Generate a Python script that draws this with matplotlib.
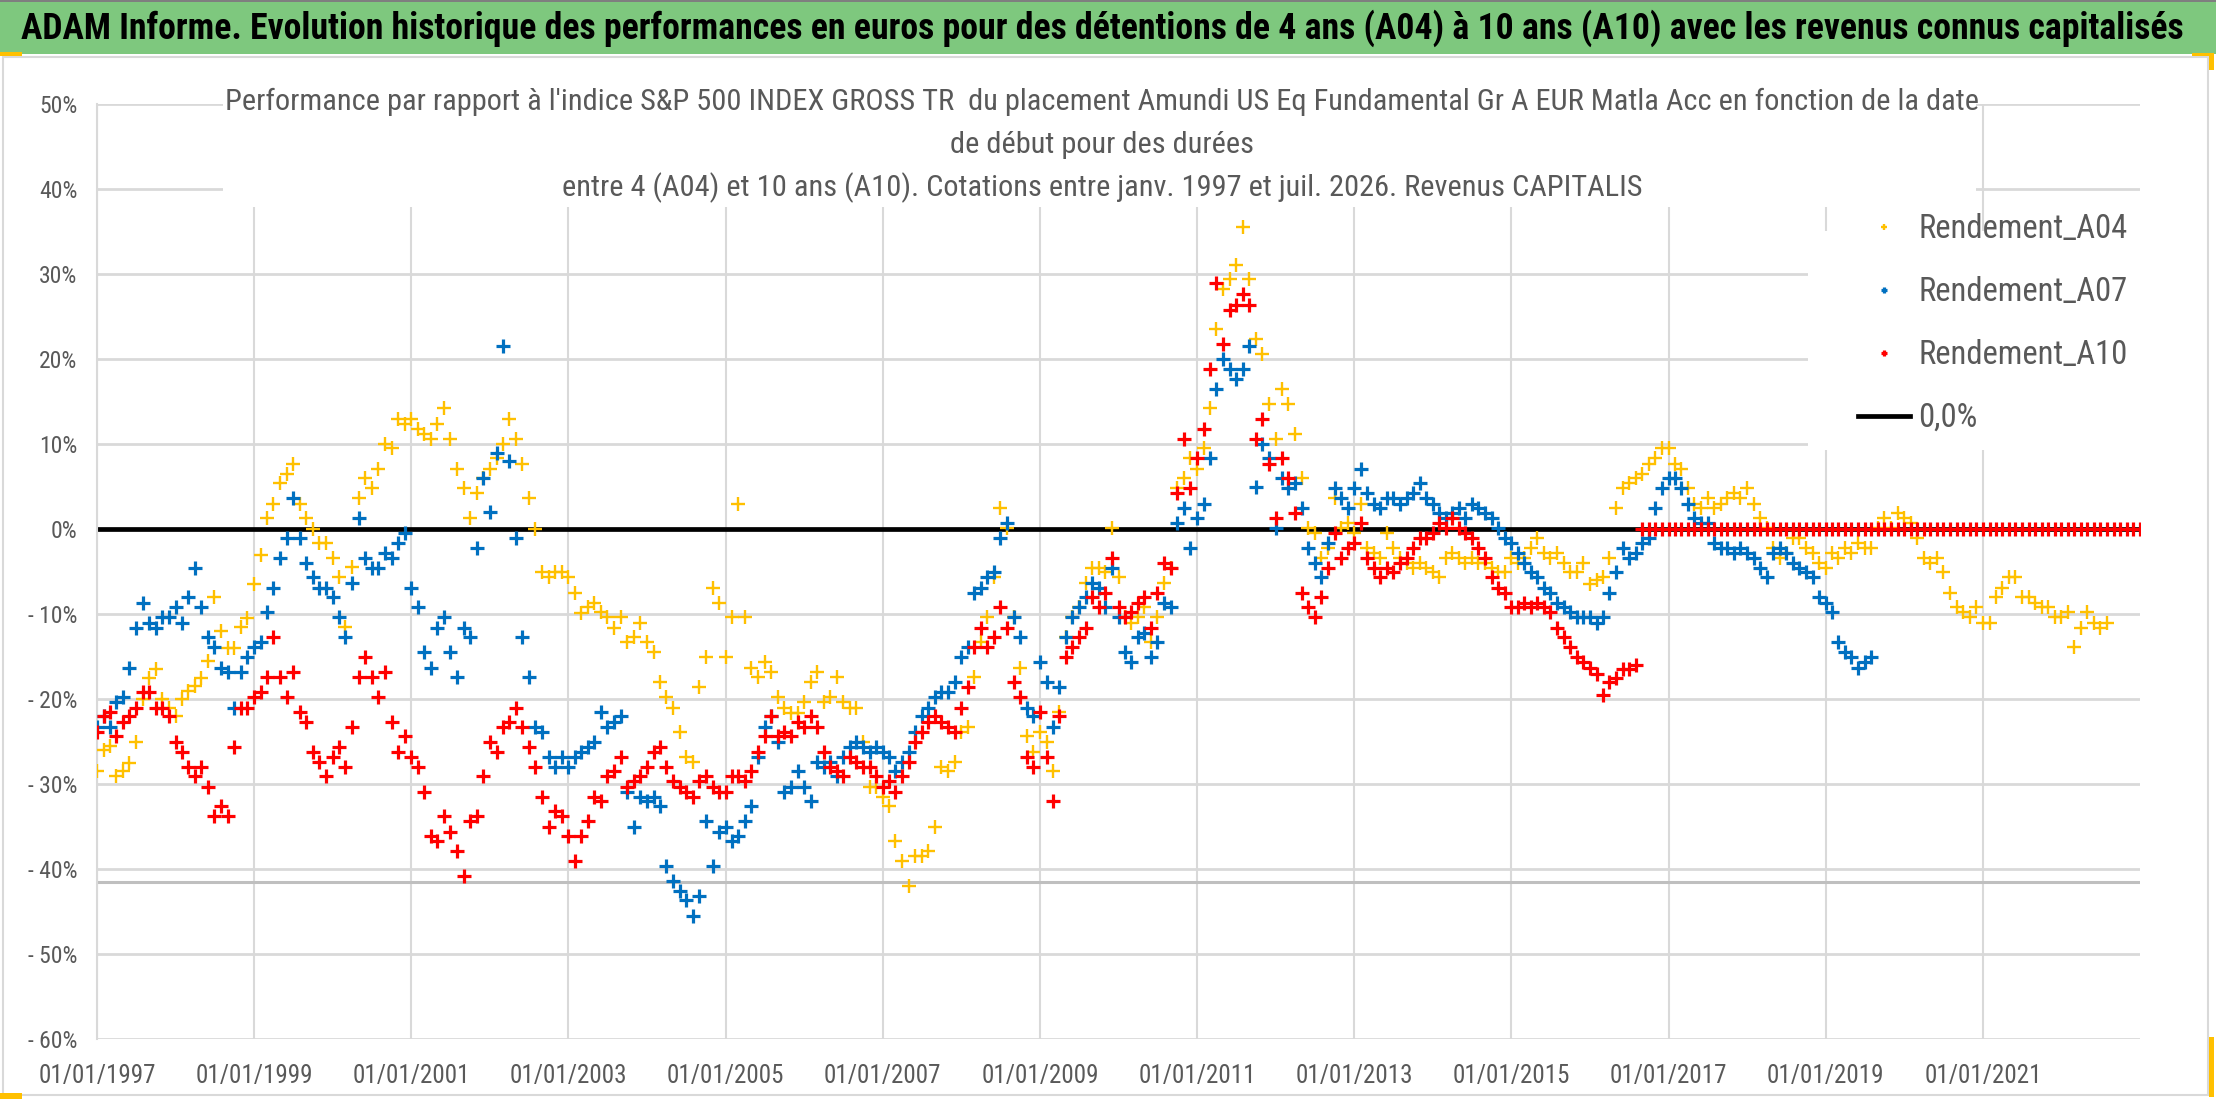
import numpy as np
import pandas as pd
import matplotlib
matplotlib.use("Agg")
import matplotlib.pyplot as plt
import matplotlib.dates as mdates
from matplotlib import font_manager
from matplotlib.patches import Rectangle

# police étroite proche de Calibri
noms = {f.name for f in font_manager.fontManager.ttflist}
police = next((n for n in ["Liberation Sans Narrow", "Roboto Condensed", "Open Sans Condensed"] if n in noms), "DejaVu Sans")
plt.rcParams["font.family"] = [police, "DejaVu Sans"]

# textes
titre = ("ADAM Informe. Evolution historique des performances en euros pour des détentions "
         "de 4 ans (A04) à 10 ans (A10) avec les revenus connus capitalisés")
sous_titre = [
    "Performance par rapport à l'indice S&P 500 INDEX GROSS TR  du placement Amundi US Eq Fundamental Gr A EUR Matla Acc en fonction de la date",
    "de début pour des durées",
    "entre 4 (A04) et 10 ans (A10). Cotations entre janv. 1997 et juil. 2026. Revenus CAPITALIS",
]
noms_series = ["Rendement_A04", "Rendement_A07", "Rendement_A10"]
nom_zero = "0,0%"

# valeurs mensuelles (en %), à partir de janv. 1997
a04 = [
    -28.5, -26, -25.5, -29, -28.5, -27.5, -25, -20, -17.5, -16.5, -20, -21,
    -22, -20, -19, -18.5, -17.5, -15.5, -8, -12, -14, -14, -11.5, -10.5,
    -6.5, -3, 1.3, 3, 5.4, 6.5, 7.7, 3, 1.3, 0, -1.6, -1.6,
    -3.4, -5.7, -11.5, -4.5, 3.6, 6, 4.8, 7.1, 10, 9.5, 13, 12.4,
    13, 11.8, 11.2, 10.6, 12.4, 14.2, 10.6, 7.1, 4.8, 1.3, 4.2, 6,
    7.1, 8.3, 10, 13, 10.6, 7.7, 3.6, 0, -5, -5.7, -5, -5,
    -5.7, -7.5, -9.9, -9.2, -8.7, -9.8, -10.4, -11.6, -10.4, -13.3, -12.7, -11,
    -13.3, -14.5, -18, -19.8, -21, -23.9, -26.8, -27.4, -18.6, -15, -6.9, -8.7,
    -15, -10.4, 3, -10.4, -16.3, -17.4, -15.6, -16.8, -19.8, -21, -21.6, -21.6,
    -20.4, -18, -16.8, -20.4, -19.8, -17.4, -20.4, -21, -21, -25, -30.3, -30.3,
    -31.5, -32.6, -36.7, -39, -42, -38.5, -38.5, -37.9, -35, -28, -28.5, -27.4,
    -23.9, -23.3, -17.4, -13.3, -10.4, -5.7, 2.5, 0.1, -10.4, -16.3, -24.4, -26.2,
    -23.9, -25, -28.5, -21.5, -12.7, -10.4, -9.2, -6.4, -4.6, -4.6, -5.1, 0.1,
    -5.7, -10.4, -11, -10.4, -9.2, -13.3, -10.4, -6.4, -4.6, 4.8, 6, 8.3,
    7.1, 9.5, 14.2, 23.5, 28.2, 29.4, 31.1, 35.5, 29.4, 22.3, 20.6, 14.7,
    10.6, 16.5, 14.7, 11.2, 6, 0.1, -0.5, -3.4, -2.2, 3.6, 0.1, 0.7,
    -0.5, 3, -2.2, -2.8, -3.4, -0.5, -2.2, -3.4, -4, -4.6, -4, -4.6,
    -5.1, -5.7, -3.4, -2.8, -3.4, -4, -3.4, -4, -4, -4.6, -5.1, -5.1,
    -3.4, -4, -3.4, -2.2, -1, -2.8, -3.4, -2.8, -4, -5.1, -5.1, -4,
    -6.5, -6, -5.7, -3.4, 2.5, 4.8, 5.4, 6, 6.5, 7.7, 8.3, 9.5,
    9.5, 7.7, 7.1, 4.8, 3, 2.5, 3.6, 2.5, 3, 3.6, 4.2, 3.6,
    4.8, 3, 1.3, 0.1, -2.2, -3.4, -2.8, -1, -1, -2.2, -2.8, -4,
    -4.6, -2.8, -3.4, -2.2, -2.8, -1.6, -2.2, -2.2, 0.1, 1.3, 0.1, 1.9,
    1.3, 0.7, -1, -3.4, -4, -3.4, -5.1, -7.5, -9.2, -9.8, -10.4, -9.2,
    -11, -11, -8, -6.9, -5.7, -5.7, -8, -8, -8.7, -9.2, -9.2, -10.4,
    -10.4, -9.8, -13.9, -11.6, -9.8, -11, -11.6, -11,
]
a07 = [
    -23.3, -22, -23.3, -20.4, -19.8, -16.3, -11.6, -8.7, -11, -11.6, -10.4, -10.4,
    -9.2, -11, -8, -4.6, -9.2, -12.7, -13.9, -16.3, -16.8, -21, -16.8, -15,
    -13.9, -13.3, -9.8, -6.9, -3.4, -1, 3.6, -1, -4, -5.7, -6.9, -6.9,
    -8, -10.4, -12.7, -6.3, 1.3, -3.4, -4.6, -4.6, -2.8, -3.4, -1.6, -0.5,
    -6.9, -9.2, -14.5, -16.3, -11.6, -10.4, -14.5, -17.4, -11.6, -12.7, -2.2, 6,
    2, 9, 21.5, 8, -1, -12.7, -17.4, -23.3, -23.9, -26.8, -28, -26.8,
    -28, -26.8, -26.2, -25.6, -25, -21.5, -23.3, -22.7, -22, -30.9, -35, -31.5,
    -32, -31.5, -32.6, -39.6, -41.4, -42.6, -43.7, -45.5, -43.2, -34.4, -39.6, -35.6,
    -35, -36.7, -36.1, -34.4, -32.6, -26.8, -23.3, -22, -25, -30.9, -30.3, -28.5,
    -30.3, -32, -27.4, -28, -27.4, -29, -26.8, -25.6, -25, -25.6, -26.2, -25.6,
    -26.2, -26.8, -28.5, -27.4, -26.2, -23.9, -22, -21, -19.8, -19.2, -19.2, -18,
    -15, -13.9, -7.5, -6.9, -5.7, -5.1, -1, 0.7, -10.4, -12.7, -21, -22,
    -15.6, -18, -23.3, -18.6, -12.7, -10.4, -9.2, -8, -6.4, -6.9, -9.2, -4.6,
    -10.4, -14.5, -15.6, -12.7, -12.2, -15, -13.3, -8.7, -9.2, 0.7, 2.5, -2.2,
    1.3, 3, 8.3, 16.5, 20, 18.8, 17.7, 18.8, 21.5, 5, 10, 8.3,
    0.1, 6, 4.8, 5.4, 2.5, -2.2, -4, -5.7, -1.6, 4.8, 3.6, 2.5,
    4.8, 7.1, 4.2, 3, 2.5, 3.6, 3.6, 3, 3.6, 4.2, 5.4, 3.6,
    3, 1.9, 1.3, 1.9, 2.5, 1.3, 3, 2.5, 1.9, 1.3, 0.1, -1,
    -1.6, -2.8, -4, -5.1, -5.7, -6.9, -7.5, -8.7, -9.2, -9.8, -10.4, -10.4,
    -10.4, -11, -10.4, -7.5, -5.1, -2.2, -3.4, -2.8, -1.6, -1, 2.5, 4.8,
    6, 6, 4.8, 3, 1.3, 0.7, 0.7, -1.6, -2.2, -2.2, -2.8, -2.2,
    -2.8, -3.4, -4.6, -5.7, -2.8, -2.2, -2.8, -4, -4.6, -5.1, -5.7, -8,
    -8.7, -9.8, -13.3, -14.5, -15, -16.3, -15.6, -15,
]
a10 = [
    -23.9, -22, -21.5, -24.4, -22.7, -22, -21, -19.2, -19.2, -21, -21, -22,
    -25, -26.2, -28, -29, -28, -30.3, -33.8, -32.6, -33.8, -25.6, -21, -21,
    -19.8, -19.2, -17.4, -12.7, -17.4, -19.8, -16.8, -21.5, -22.7, -26.2, -27.4, -29,
    -26.8, -25.6, -28, -23.3, -17.4, -15, -17.4, -19.8, -16.8, -22.7, -26.2, -24.4,
    -26.8, -28, -30.9, -36.1, -36.7, -33.8, -35.6, -37.9, -40.8, -34.4, -33.8, -29,
    -25, -26.2, -23.3, -22.7, -21, -23.3, -25.6, -28, -31.5, -35, -33.2, -33.8,
    -36.1, -39, -36.1, -34.4, -31.5, -32, -29, -28.5, -26.8, -30.3, -29.7, -29,
    -28, -26.2, -25.6, -28, -29.7, -30.3, -30.9, -31.5, -29.7, -29, -30.3, -30.9,
    -30.9, -29, -29, -29.7, -28.5, -26.2, -24.4, -22, -24.4, -23.9, -24.4, -22.7,
    -23.3, -22, -23.3, -26.2, -28, -28.5, -29, -26.8, -27.4, -28, -28, -29,
    -30.3, -29.7, -30.9, -29, -27.4, -25, -23.9, -22.7, -22, -22.7, -23.3, -23.9,
    -21, -18.6, -13.9, -11.6, -13.9, -12.7, -9.2, -11.6, -18, -19.8, -26.8, -28,
    -21.5, -26.8, -32, -22, -15, -13.9, -12.7, -11.6, -8, -9.2, -7.5, -3.4,
    -9.2, -10.4, -9.8, -8.7, -8, -11.6, -7.5, -4, -4.6, 4.2, 10.6, 4.8,
    8.3, 11.8, 18.8, 29, 21.8, 25.8, 26.4, 27.6, 26.4, 10.6, 13, 7.7,
    1.3, 8.3, 6, 1.9, -7.5, -9.2, -10.4, -8, -4.6, -0.5, -3.4, -2.2,
    -1.6, 0.7, -3.4, -4.6, -5.7, -4.6, -5.1, -4, -3.4, -2.2, -1, -1,
    -0.5, 0.7, 0.1, 1.3, 0.1, -0.5, -1, -2.2, -3.4, -5.7, -6.9, -7.5,
    -9.2, -9.2, -8.7, -9.2, -8.7, -9.2, -9.8, -11.6, -12.7, -13.9, -15, -15.6,
    -16.3, -17, -19.5, -18, -17.5, -16.5, -16.5, -16,
] + [0.0] * 77  # dates de début trop récentes : valeur 0

couleurs = ["#FFC000", "#0070C0", "#FF0000"]
gris_texte = "#595959"
gris_grille = "#D9D9D9"

W, H = 2216, 1102
fig = plt.figure(figsize=(W / 100, H / 100), dpi=100)

def px(x0, y0, x1, y1):
    # rectangle en pixels (origine en haut à gauche) -> fraction de figure
    return (x0 / W, 1 - y1 / H), (x1 - x0) / W, (y1 - y0) / H

# cadre du graphique et bandeau vert
xy, w, h = px(3, 57, 2208, 1095)
fig.patches.append(Rectangle(xy, w, h, transform=fig.transFigure, fc="none", ec=gris_grille, lw=1.5, zorder=-1))
xy, w, h = px(0, 2, W, 54)
fig.patches.append(Rectangle(xy, w, h, transform=fig.transFigure, fc="#7EC87E", ec="none", zorder=-1))
xy, w, h = px(0, 0, W, 2)
fig.patches.append(Rectangle(xy, w, h, transform=fig.transFigure, fc="#7F7F7F", ec="none", zorder=-1))
for r in [(0, 52, 22, 56), (2192, 53, 2214, 56), (2209, 53, 2214, 70), (2209, 1037, 2214, 1097), (0, 1093, 22, 1099)]:
    xy, w, h = px(*r)
    fig.patches.append(Rectangle(xy, w, h, transform=fig.transFigure, fc="#FFC000", ec="none", zorder=-1))

t_titre = fig.text(1102 / W, 1 - 28 / H, titre, ha="center", va="center", fontsize=25,
                   fontweight="bold", color="black")

ax = fig.add_axes([97 / W, 1 - 1039 / H, (2140 - 97) / W, (1039 - 104) / H])
ax.set_axisbelow(True)

dates04 = pd.date_range("1997-01-01", periods=len(a04), freq="MS")
dates07 = pd.date_range("1997-01-01", periods=len(a07), freq="MS")
dates10 = pd.date_range("1997-01-01", periods=len(a10), freq="MS")

ax.set_xlim(pd.Timestamp("1997-01-01"), pd.Timestamp("2023-01-01"))
ax.set_ylim(-60, 50)
ax.set_yticks(np.arange(-60, 51, 10))
ax.yaxis.set_major_formatter(plt.FuncFormatter(lambda v, p: f"{v:.0f}%" if v >= 0 else f"- {abs(v):.0f}%"))
ax.set_xticks(pd.date_range("1997-01-01", "2021-01-01", freq="24MS"))
ax.xaxis.set_major_formatter(mdates.DateFormatter("%d/%m/%Y"))
ax.tick_params(axis="both", length=0, colors=gris_texte)
ax.tick_params(axis="y", labelsize=17, pad=14)
ax.tick_params(axis="x", labelsize=18, pad=18)
ax.grid(axis="y", color=gris_grille, lw=2)
ax.grid(axis="x", color=gris_grille, lw=1.5)
for s in ["top", "right", "bottom"]:
    ax.spines[s].set_visible(False)
ax.spines["left"].set_color(gris_grille)
ax.spines["left"].set_linewidth(1.5)

# fonds blancs du titre du graphique et de la légende (cachent la grille)
ax.add_patch(Rectangle((0.0617, 0.89), 0.858, 0.12, transform=ax.transAxes, fc="white", ec="none",
                       zorder=1, clip_on=False))
ax.add_patch(Rectangle((0.8375, 0.63), 0.17, 0.234, transform=ax.transAxes, fc="white", ec="none",
                       zorder=1, clip_on=False))

ax.axhline(-41.5, color="#BFBFBF", lw=2.2, zorder=1.5)
ax.axhline(0, color="black", lw=3.4, zorder=2, label=nom_zero)

for d, v, c, mew, nom in zip([dates04, dates07, dates10], [a04, a07, a10], couleurs,
                             [1.7, 2.3, 2.3], noms_series):
    ax.plot(d, v, ls="none", marker="+", ms=10.5, mew=mew, color=c, zorder=3, label=nom)

handles, labels = ax.get_legend_handles_labels()
ordre = [labels.index(n) for n in noms_series + [nom_zero]]
leg = ax.legend([handles[i] for i in ordre], [labels[i] for i in ordre], loc="upper left",
                bbox_to_anchor=((1845 - 97) / 2043, (1039 - 200) / 935),
                frameon=False, fontsize=23.5, labelcolor=gris_texte, handlelength=1.6,
                handletextpad=0.25, labelspacing=0.95, markerscale=0.45, borderaxespad=0)

# sous-titre centré en trois lignes
t_sous = []
for ligne, y in zip(sous_titre, [102, 145, 188]):
    t_sous.append(fig.text(1102 / W, 1 - y / H, ligne, ha="center", va="center", fontsize=18,
                           color=gris_texte))

# ajuste les tailles de police aux largeurs mesurées sur la référence
fig.canvas.draw()
r = fig.canvas.get_renderer()
l = t_titre.get_window_extent(r).width
t_titre.set_fontsize(t_titre.get_fontsize() * 2170 / l)
l = t_sous[0].get_window_extent(r).width
for t in t_sous:
    t.set_fontsize(t.get_fontsize() * 1749 / l)

fig.savefig("out.png", dpi=100)
